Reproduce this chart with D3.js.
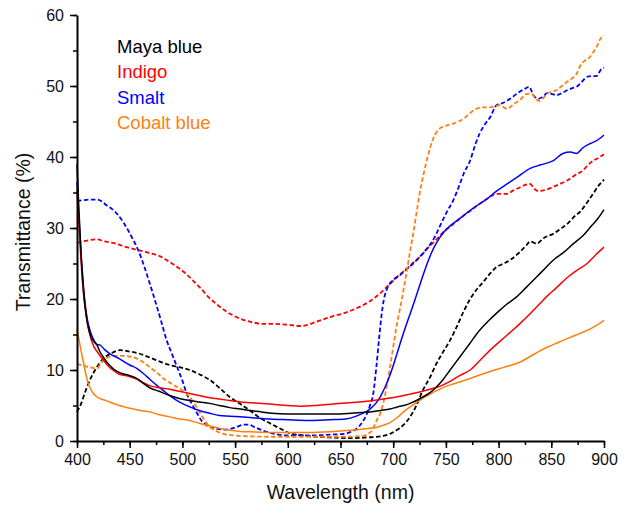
<!DOCTYPE html>
<html>
<head>
<meta charset="utf-8">
<script src="https://cdn.jsdelivr.net/npm/d3@7"></script>
<style>
  html, body { margin: 0; padding: 0; background: #fff; }
  svg { display: block; font-family: "Liberation Sans", Arial, sans-serif; }
</style>
</head>
<body>
<div id="chart"></div>
<script>
// ---- Data (wavelength nm, transmittance %) ----
const mayaBlueSolid = [[400,39],[402,32],[404,26],[406,21.5],[408,18.5],[410,16.5],[413,14.8],[416,14],[419,13.5],[422,12.5],[425,11.8],[430,10.8],[435,10.1],[441,9.6],[450,9.2],[457,8.8],[463,8.1],[469,7.5],[478,7.0],[488,6.4],[497,6.0],[507,5.7],[516,5.5],[526,5.3],[535,5.0],[545,4.7],[555,4.5],[564,4.3],[575,4.1],[585,3.9],[600,3.8],[615,3.8],[627,3.8],[645,3.8],[660,3.9],[670,4.0],[678,4.1],[688,4.3],[697,4.5],[704,4.8],[710,5.0],[716,5.3],[722,5.7],[728,6.2],[735,6.8],[741,7.6],[747,8.6],[754,10.0],[763,11.8],[772,13.6],[782,15.6],[791,17.0],[801,18.4],[808,19.3],[817,20.3],[826,21.6],[836,23.1],[844,24.3],[852,25.5],[862,26.6],[871,27.8],[880,28.9],[887,30.1],[894,31.3],[900,32.6]];
const mayaBlueDashed = [[400,4.1],[404,5.3],[408,7],[412,8.5],[418,10.2],[425,11.6],[433,12.4],[441,12.8],[450,12.6],[457,12.4],[465,12.0],[475,11.4],[488,10.7],[497,10.4],[507,10.0],[516,9.4],[526,8.6],[535,7.5],[545,6.2],[555,5.2],[564,4.3],[573,3.3],[583,2.5],[592,1.8],[602,1.1],[614,0.8],[627,0.6],[640,0.5],[659,0.4],[675,0.5],[690,0.7],[697,1.0],[703,1.5],[710,2.3],[716,3.4],[722,5.0],[728,7.1],[735,9.0],[741,10.9],[748,12.7],[754,14.2],[760,16.0],[767,18.3],[773,20.0],[779,21.3],[786,22.5],[792,23.6],[798,24.5],[805,25.0],[812,25.6],[820,26.6],[826,27.5],[830,28.1],[836,27.8],[843,28.6],[852,29.2],[860,30.0],[866,30.7],[871,31.5],[878,32.4],[884,33.6],[890,34.9],[895,36.0],[900,36.8]];
const indigoSolid = [[400,35.3],[402,30],[404,25],[406,21],[408,18.5],[410,16.5],[413,14.5],[416,13.3],[420,12.4],[425,11.4],[430,10.5],[434,10.0],[440,9.4],[447,9.2],[457,8.7],[463,8.2],[469,7.8],[478,7.5],[488,7.3],[497,7.0],[507,6.7],[516,6.4],[526,6.1],[535,5.9],[545,5.7],[555,5.5],[564,5.4],[583,5.2],[600,5.0],[612,4.9],[627,5.0],[643,5.2],[659,5.4],[675,5.6],[690,5.9],[703,6.2],[716,6.6],[725,6.9],[735,7.3],[744,7.7],[754,8.4],[763,9.2],[773,10.0],[782,11.3],[792,12.8],[801,14.0],[811,15.3],[820,16.5],[827,17.5],[835,18.7],[842,19.8],[846,20.4],[855,21.6],[865,23.0],[874,24.0],[884,25.0],[892,26.2],[900,27.3]];
const indigoDashed = [[400,27.9],[405,28.1],[412,28.3],[419,28.4],[426,28.1],[434,27.9],[441,27.6],[447,27.3],[455,27.0],[463,26.7],[471,26.4],[479,26.0],[487,25.3],[495,24.5],[503,23.6],[510,22.6],[518,21.4],[526,20.1],[533,19.2],[541,18.3],[548,17.7],[557,17.1],[567,16.7],[577,16.5],[586,16.5],[598,16.4],[612,16.2],[620,16.4],[627,16.8],[635,17.2],[643,17.6],[651,17.9],[659,18.3],[665,18.7],[671,19.1],[678,19.7],[686,20.6],[694,21.7],[703,23.0],[713,24.3],[719,25.1],[725,25.9],[733,27.2],[741,28.4],[748,29.5],[756,30.4],[763,31.3],[772,32.3],[782,33.4],[790,34.2],[798,34.8],[808,34.8],[814,35.3],[820,35.7],[826,36.1],[830,36.2],[834,35.5],[838,35.2],[845,35.4],[852,35.8],[858,36.2],[865,36.7],[872,37.4],[880,38.1],[885,38.9],[890,39.5],[895,39.9],[900,40.4]];
const smaltSolid = [[400,36.5],[402,31],[404,26],[406,22],[408,19],[410,17],[413,15.3],[416,14.2],[419,13.6],[422,13.5],[426,12.9],[431,12.3],[440,11.6],[450,10.7],[457,10.2],[463,9.5],[469,8.7],[476,7.8],[482,7.1],[488,6.4],[497,5.5],[507,4.8],[516,4.3],[526,3.9],[535,3.6],[545,3.5],[555,3.4],[564,3.3],[583,3.1],[600,3.0],[620,2.9],[640,3.0],[655,3.1],[665,3.5],[671,3.9],[678,4.5],[684,5.4],[688,6.3],[692,7.5],[696,8.9],[700,10.6],[704,12.5],[708,14.4],[712,16.2],[716,17.9],[720,19.6],[724,21.4],[728,23.2],[732,24.9],[736,26.4],[741,27.9],[748,29.4],[754,30.3],[761,31.1],[767,31.8],[778,33.0],[789,34.1],[798,35.2],[808,36.2],[818,37.2],[830,38.4],[840,38.9],[852,39.5],[861,40.5],[868,40.7],[874,40.5],[880,41.3],[887,41.9],[893,42.3],[900,43.1]];
const smaltDashed = [[400,33.8],[405,33.9],[412,34.0],[419,34.0],[424,33.7],[428,33.2],[433,32.7],[438,32.0],[444,30.8],[448,29.8],[452,28.7],[458,26.9],[464,24.5],[469,22.2],[474,19.8],[480,16.8],[485,14.2],[490,12.3],[495,10.4],[500,8.5],[504,6.7],[509,5.2],[514,3.9],[518,2.9],[523,2.2],[528,1.9],[533,1.7],[540,1.6],[545,1.7],[552,2.0],[558,2.3],[563,2.3],[568,2.0],[574,1.6],[580,1.3],[588,1.0],[596,0.8],[610,0.8],[627,0.8],[640,0.9],[653,1.0],[660,1.3],[665,1.7],[670,2.5],[675,3.8],[678,5.0],[681,6.6],[684,10.4],[687,15.0],[689,17.8],[691,19.8],[694,21.4],[697,22.2],[701,22.8],[706,23.3],[712,24.1],[719,25.0],[725,25.9],[732,27.1],[737,28.1],[741,29.2],[746,30.8],[751,32.3],[757,33.9],[762,35.7],[767,37.7],[773,39.5],[778,41.8],[782,43.3],[787,44.6],[792,45.6],[798,47.3],[804,47.6],[811,48.2],[820,49.2],[825,49.6],[829,49.9],[833,48.7],[838,48.2],[842,48.5],[846,49.0],[850,48.9],[855,48.7],[860,49.0],[865,49.4],[870,49.7],[874,49.9],[879,50.6],[884,51.3],[888,51.4],[893,51.4],[897,52.3],[900,52.6]];
const cobaltSolid = [[400,15.8],[402,14.2],[404,12.6],[406,11.2],[408,9.7],[410,8.4],[412,7.6],[415,6.8],[419,6.2],[425,5.8],[431,5.5],[440,5.0],[450,4.6],[460,4.3],[469,4.1],[478,3.7],[488,3.4],[497,3.1],[507,2.9],[516,2.5],[526,2.1],[535,1.8],[545,1.5],[555,1.35],[564,1.3],[583,1.2],[600,1.2],[620,1.2],[640,1.3],[659,1.5],[672,1.7],[684,1.9],[690,2.2],[697,2.6],[703,3.2],[709,4.0],[716,4.8],[722,5.4],[728,6.0],[735,6.6],[744,7.3],[754,7.9],[763,8.3],[773,8.8],[782,9.3],[792,9.8],[801,10.2],[810,10.6],[820,11.1],[830,11.9],[838,12.6],[846,13.2],[857,13.9],[868,14.6],[878,15.2],[887,15.8],[894,16.4],[900,17.0]];
const cobaltDashed = [[400,10.9],[406,10.6],[412,10.4],[419,10.2],[422,10.8],[425,11.4],[430,11.8],[436,12.0],[444,12.0],[450,11.9],[457,11.6],[463,11.1],[469,10.4],[476,9.6],[482,8.8],[488,8.2],[495,7.6],[501,7.0],[507,6.2],[512,5.1],[517,3.9],[521,2.9],[526,2.0],[532,1.4],[539,1.0],[548,0.8],[558,0.7],[583,0.6],[620,0.6],[650,0.6],[671,0.7],[676,1.0],[680,1.5],[684,2.8],[688,4.0],[691,5.6],[694,7.8],[697,10.4],[700,13.2],[703,16.0],[706,18.3],[708,19.8],[710,21.5],[713,24.0],[716,26.7],[719,29.2],[722,32.0],[725,34.8],[729,37.7],[733,40.2],[738,42.6],[744,44.0],[750,44.4],[757,44.7],[762,45.0],[767,45.4],[773,46.2],[779,46.8],[786,47.0],[792,47.0],[798,47.2],[801,47.3],[805,47.0],[808,46.8],[814,47.4],[820,48.0],[827,48.9],[831,48.9],[835,48.2],[839,47.9],[843,48.4],[846,48.9],[850,49.2],[855,49.4],[860,50.0],[865,50.6],[870,51.1],[874,51.7],[878,53.0],[882,53.6],[886,54.0],[890,54.8],[893,55.5],[896,56.5],[900,57.1]];

const legendLabels = ["Maya blue", "Indigo", "Smalt", "Cobalt blue"];
const legendColors = ["#000000", "#ff0000", "#0000ff", "#ff7f0f"];
const xTicks = [400, 450, 500, 550, 600, 650, 700, 750, 800, 850, 900];
const yTicks = [0, 10, 20, 30, 40, 50, 60];

const series = [
  { data: mayaBlueDashed, color: legendColors[0], dashed: true },
  { data: indigoDashed, color: legendColors[1], dashed: true },
  { data: smaltDashed, color: legendColors[2], dashed: true },
  { data: cobaltDashed, color: legendColors[3], dashed: true },
  { data: cobaltSolid, color: legendColors[3], dashed: false },
  { data: smaltSolid, color: legendColors[2], dashed: false },
  { data: indigoSolid, color: legendColors[1], dashed: false },
  { data: mayaBlueSolid, color: legendColors[0], dashed: false }
];

// ---- Layout ----
const W = 629, H = 506;
const margin = { top: 15, right: 25, bottom: 65, left: 77 };
const svg = d3.select("#chart").append("svg").attr("width", W).attr("height", H);

const x = d3.scaleLinear().domain([400, 900]).range([margin.left, W - margin.right]);
const y = d3.scaleLinear().domain([0, 60]).range([H - margin.bottom, margin.top]);

// Lines
const line = d3.line().x(d => x(d[0])).y(d => y(d[1])).curve(d3.curveMonotoneX);
const g = svg.append("g");
series.forEach(s => {
  g.append("path")
    .datum(s.data)
    .attr("fill", "none")
    .attr("stroke", s.color)
    .attr("stroke-width", s.dashed ? 1.8 : 1.5)
    .attr("stroke-dasharray", s.dashed ? "4.5,2.5" : null)
    .attr("stroke-linejoin", "round")
    .attr("d", line);
});

// Minor ticks
const minorX = d3.range(400, 901, 25);
const minorY = d3.range(0, 61, 5);
svg.append("g")
  .attr("transform", `translate(0,${y(0)})`)
  .call(d3.axisBottom(x).tickValues(minorX).tickSize(4).tickFormat("").tickSizeOuter(0))
  .call(a => a.select(".domain").remove())
  .call(a => a.selectAll("line").attr("stroke-width", 1.5));
svg.append("g")
  .attr("transform", `translate(${x(400)},0)`)
  .call(d3.axisLeft(y).tickValues(minorY).tickSize(4).tickFormat("").tickSizeOuter(0))
  .call(a => a.select(".domain").remove())
  .call(a => a.selectAll("line").attr("stroke-width", 1.5));

// Major axes
const xAxis = svg.append("g")
  .attr("transform", `translate(0,${y(0)})`)
  .call(d3.axisBottom(x).tickValues(xTicks).tickSize(7).tickPadding(6).tickSizeOuter(0));
const yAxis = svg.append("g")
  .attr("transform", `translate(${x(400)},0)`)
  .call(d3.axisLeft(y).tickValues(yTicks).tickSize(7).tickPadding(6).tickSizeOuter(0));
[xAxis, yAxis].forEach(a => {
  a.select(".domain").attr("stroke-width", 2);
  a.selectAll("line").attr("stroke-width", 1.5);
  a.selectAll("text").attr("font-size", 16).attr("fill", "#111")
    .attr("font-family", '"Liberation Sans", Arial, sans-serif');
});

// Axis titles
svg.append("text")
  .attr("x", (x(400) + x(900)) / 2)
  .attr("y", 499)
  .attr("text-anchor", "middle")
  .attr("font-size", 19.5)
  .attr("fill", "#111")
  .text("Wavelength (nm)");
svg.append("text")
  .attr("transform", `translate(30,${232}) rotate(-90)`)
  .attr("text-anchor", "middle")
  .attr("font-size", 19.5)
  .attr("fill", "#111")
  .text("Transmittance (%)");

// Legend
const legend = svg.append("g");
legendLabels.forEach((lab, i) => {
  legend.append("text")
    .attr("x", 117)
    .attr("y", 53 + i * 25.3)
    .attr("font-size", 18.5)
    .attr("fill", legendColors[i])
    .text(lab);
});
</script>
</body>
</html>
